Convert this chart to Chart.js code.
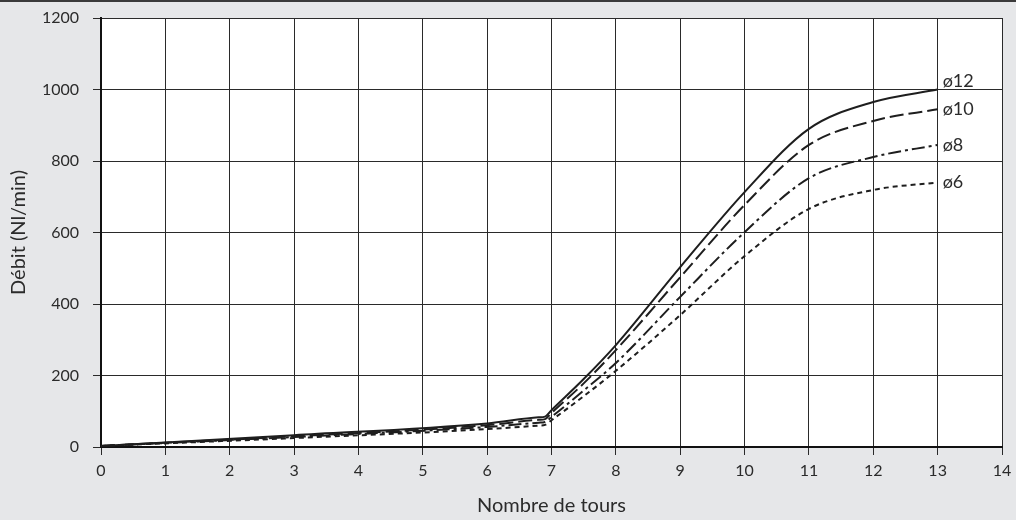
<!DOCTYPE html>
<html>
<head>
<meta charset="utf-8">
<script src="https://cdn.jsdelivr.net/npm/chart.js@4"></script>
<style>
  html, body { margin: 0; padding: 0; background: #e6e7e9; }
  canvas { display: block; }
</style>
</head>
<body>
<canvas id="chart" width="1016" height="520"></canvas>
<script>
// tours (x) shared by every curve
const tours = [0, 3, 6, 6.8, 6.9, 7.0, 7.5, 8, 9, 10, 11, 12, 13];

// débit in Nl/min
const d12 = [3, 33, 66, 83, 85, 103, 190, 285, 503, 713, 890, 965, 1000];
const d10 = [3, 30, 61, 76, 78, 95, 178, 271, 475, 677, 845, 912, 945];
const d8  = [3, 28, 56, 68, 70, 84, 158, 235, 420, 601, 752, 811, 845];
const d6  = [3, 25, 50, 60, 62, 75, 142, 213, 369, 534, 666, 719, 740];

const seriesLabels = ['ø12', 'ø10', 'ø8', 'ø6'];
const yTicks = [0, 200, 400, 600, 800, 1000, 1200];

const FONT = 'Lato, "DejaVu Sans", sans-serif';
const INK = '#2b2b2b';

function points(values) {
  return values.map((v, i) => ({ x: tours[i], y: v }));
}

function makeSet(label, values, dash) {
  return {
    label: label,
    data: points(values),
    borderColor: '#1e1e1e',
    borderWidth: 2,
    borderDash: dash,
    pointRadius: 0,
    fill: false,
    cubicInterpolationMode: 'monotone'
  };
}

// white plot area + dark top rule
const frame = {
  id: 'frame',
  beforeDraw(chart) {
    const { ctx, chartArea: a } = chart;
    ctx.save();
    ctx.fillStyle = '#ffffff';
    ctx.fillRect(a.left, a.top, a.right - a.left, a.bottom - a.top);
    ctx.fillStyle = '#3a3a3a';
    ctx.fillRect(0, 0, chart.width, 2);
    ctx.restore();
  }
};

// ø labels at the end of each curve (top one sits above its line)
const endLabels = {
  id: 'endLabels',
  afterDatasetsDraw(chart) {
    const ctx = chart.ctx;
    const lift = [8, 0, 0, 0];
    ctx.save();
    ctx.font = '18px ' + FONT;
    ctx.fillStyle = INK;
    ctx.textBaseline = 'middle';
    chart.data.datasets.forEach((ds, i) => {
      const meta = chart.getDatasetMeta(i);
      const last = meta.data[meta.data.length - 1];
      ctx.fillText(ds.label, last.x + 5, last.y - lift[i]);
    });
    ctx.restore();
  }
};

new Chart(document.getElementById('chart'), {
  type: 'line',
  data: {
    datasets: [
      makeSet(seriesLabels[0], d12, []),
      makeSet(seriesLabels[1], d10, [14, 5]),
      makeSet(seriesLabels[2], d8, [13, 4, 3, 4]),
      makeSet(seriesLabels[3], d6, [5, 4])
    ]
  },
  options: {
    responsive: false,
    animation: false,
    devicePixelRatio: 1,
    layout: { padding: { left: 0, top: 18, right: 14, bottom: 0 } },
    plugins: {
      legend: { display: false },
      tooltip: { enabled: false }
    },
    scales: {
      x: {
        type: 'linear',
        min: 0,
        max: 14,
        ticks: {
          stepSize: 1,
          autoSkip: false,
          maxRotation: 0,
          color: INK,
          font: { family: FONT, size: 16 },
          padding: 6
        },
        grid: { color: '#2a2a2a', lineWidth: 1, tickLength: 8 },
        border: { color: '#111', width: 2 },
        title: {
          display: true,
          text: 'Nombre de tours',
          color: INK,
          font: { family: FONT, size: 20 },
          padding: { top: 4, bottom: 2 }
        },
        afterFit(scale) {
          scale.height = 73;
          scale.paddingLeft = 0;
          scale.paddingRight = 0;
        }
      },
      y: {
        min: 0,
        max: 1200,
        afterBuildTicks(scale) { scale.ticks = yTicks.map(v => ({ value: v })); },
        ticks: {
          autoSkip: false,
          color: INK,
          font: { family: FONT, size: 16 },
          padding: 14,
          callback: v => String(v)
        },
        grid: { color: '#2a2a2a', lineWidth: 1, tickLength: 8 },
        border: { color: '#111', width: 2 },
        title: {
          display: true,
          text: 'Débit (Nl/min)',
          color: INK,
          font: { family: FONT, size: 20 },
          padding: { top: 7, bottom: 7 }
        },
        afterFit(scale) {
          scale.width = 101;
          scale.paddingTop = 0;
          scale.paddingBottom = 0;
        }
      }
    }
  },
  plugins: [frame, endLabels]
});
</script>
</body>
</html>
